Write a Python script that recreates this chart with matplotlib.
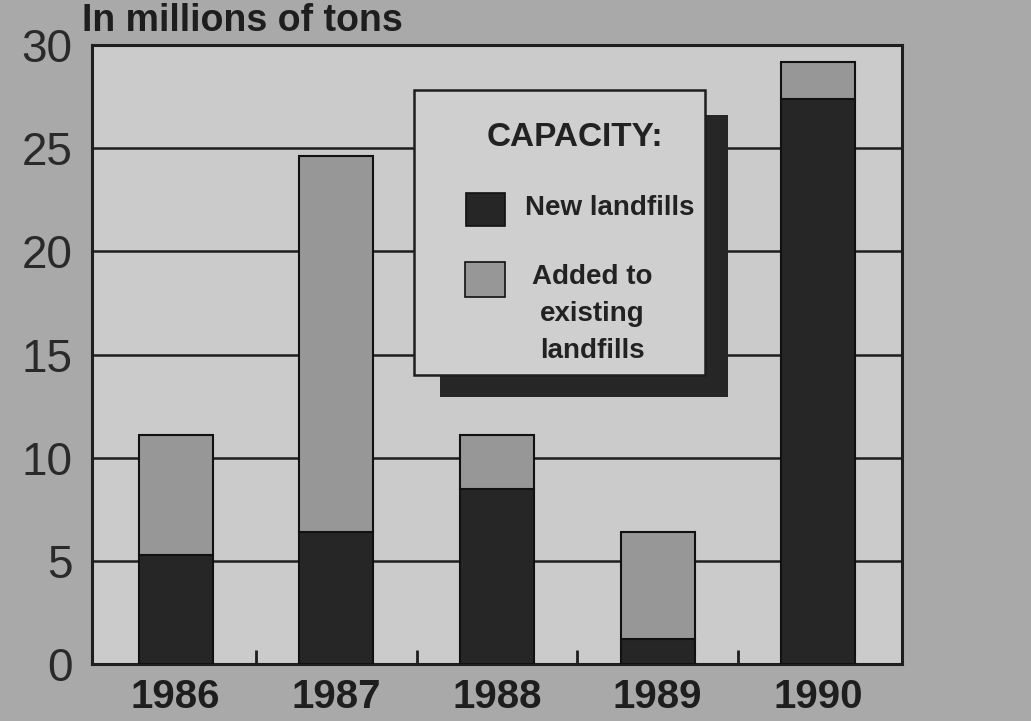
import matplotlib
matplotlib.use("Agg")
import matplotlib.pyplot as plt
from matplotlib.patches import Rectangle

years = ["1986", "1987", "1988", "1989", "1990"]
new_landfills = [5.3, 6.4, 8.5, 1.2, 27.4]
added_existing = [5.8, 18.2, 2.6, 5.2, 1.8]
y_ticks = [0, 5, 10, 15, 20, 25, 30]

plt.rcParams['font.family'] = ['Liberation Sans', 'DejaVu Sans']

page = '#a9a9a9'
panel = '#cbcbcb'
dark = '#262626'
grey = '#979797'

fig = plt.figure(figsize=(10.31, 7.21), dpi=100, facecolor=page)
ax = fig.add_axes([92/1031, 1-664/721, 810/1031, 619/721])
ax.set_facecolor(panel)

x = list(range(len(years)))
ax.bar(x, new_landfills, width=0.46, color=dark, edgecolor='#111111', linewidth=1.5, zorder=3)
ax.bar(x, added_existing, width=0.46, bottom=new_landfills, color=grey,
       edgecolor='#111111', linewidth=1.5, zorder=3)

ax.set_xlim(-0.52, 4.52)
ax.set_ylim(0, 30)
ax.set_yticks(y_ticks)
ax.set_yticklabels([str(v) for v in y_ticks], fontsize=33, color='#2a2a2a')
ax.set_xticks(x)
ax.set_xticklabels(years, fontsize=29, fontweight='bold', color='#1e1e1e')
ax.tick_params(axis='y', length=0, pad=14)
ax.tick_params(axis='x', length=0, pad=10)
ax.set_xticks([0.5, 1.5, 2.5, 3.5], minor=True)
ax.tick_params(axis='x', which='minor', direction='in', length=10, width=2, color='#1e1e1e')

for v in [5, 10, 15, 20, 25]:
    ax.axhline(v, color='#1e1e1e', linewidth=1.8, zorder=1)
for s in ax.spines.values():
    s.set_linewidth(2.2)
    s.set_color('#1e1e1e')

# legend box with drop shadow
ax.add_patch(Rectangle((0.4296, 0.4313), 0.3556, 0.4556, transform=ax.transAxes,
                       facecolor=dark, edgecolor='none', zorder=5, clip_on=False))
ax.add_patch(Rectangle((0.3975, 0.4669), 0.3593, 0.4604, transform=ax.transAxes,
                       facecolor='#cfcfcf', edgecolor='#1e1e1e', linewidth=1.8, zorder=6, clip_on=False))
ax.text(0.5963, 0.8498, "CAPACITY:", transform=ax.transAxes, fontsize=24, fontweight='bold',
        ha='center', va='center', color='#222222', zorder=7)
ax.add_patch(Rectangle((0.4617, 0.7076), 0.0481, 0.0533, transform=ax.transAxes,
                       facecolor=dark, edgecolor='#111111', linewidth=1.2, zorder=7))
ax.text(0.5346, 0.7367, "New landfills", transform=ax.transAxes, fontsize=20, fontweight='bold',
        ha='left', va='center', color='#222222', zorder=7)
ax.add_patch(Rectangle((0.4605, 0.5929), 0.0494, 0.0565, transform=ax.transAxes,
                       facecolor=grey, edgecolor='#111111', linewidth=1.2, zorder=7))
ax.text(0.6173, 0.5654, "Added to\nexisting\nlandfills", transform=ax.transAxes, fontsize=20,
        fontweight='bold', ha='center', va='center', linespacing=1.55, color='#222222', zorder=7)

fig.text(82/1031, 1-31/721, "In millions of tons", fontsize=27, fontweight='bold',
         ha='left', va='baseline', color='#1e1e1e')

fig.savefig("out.png", dpi=100, facecolor=page)
